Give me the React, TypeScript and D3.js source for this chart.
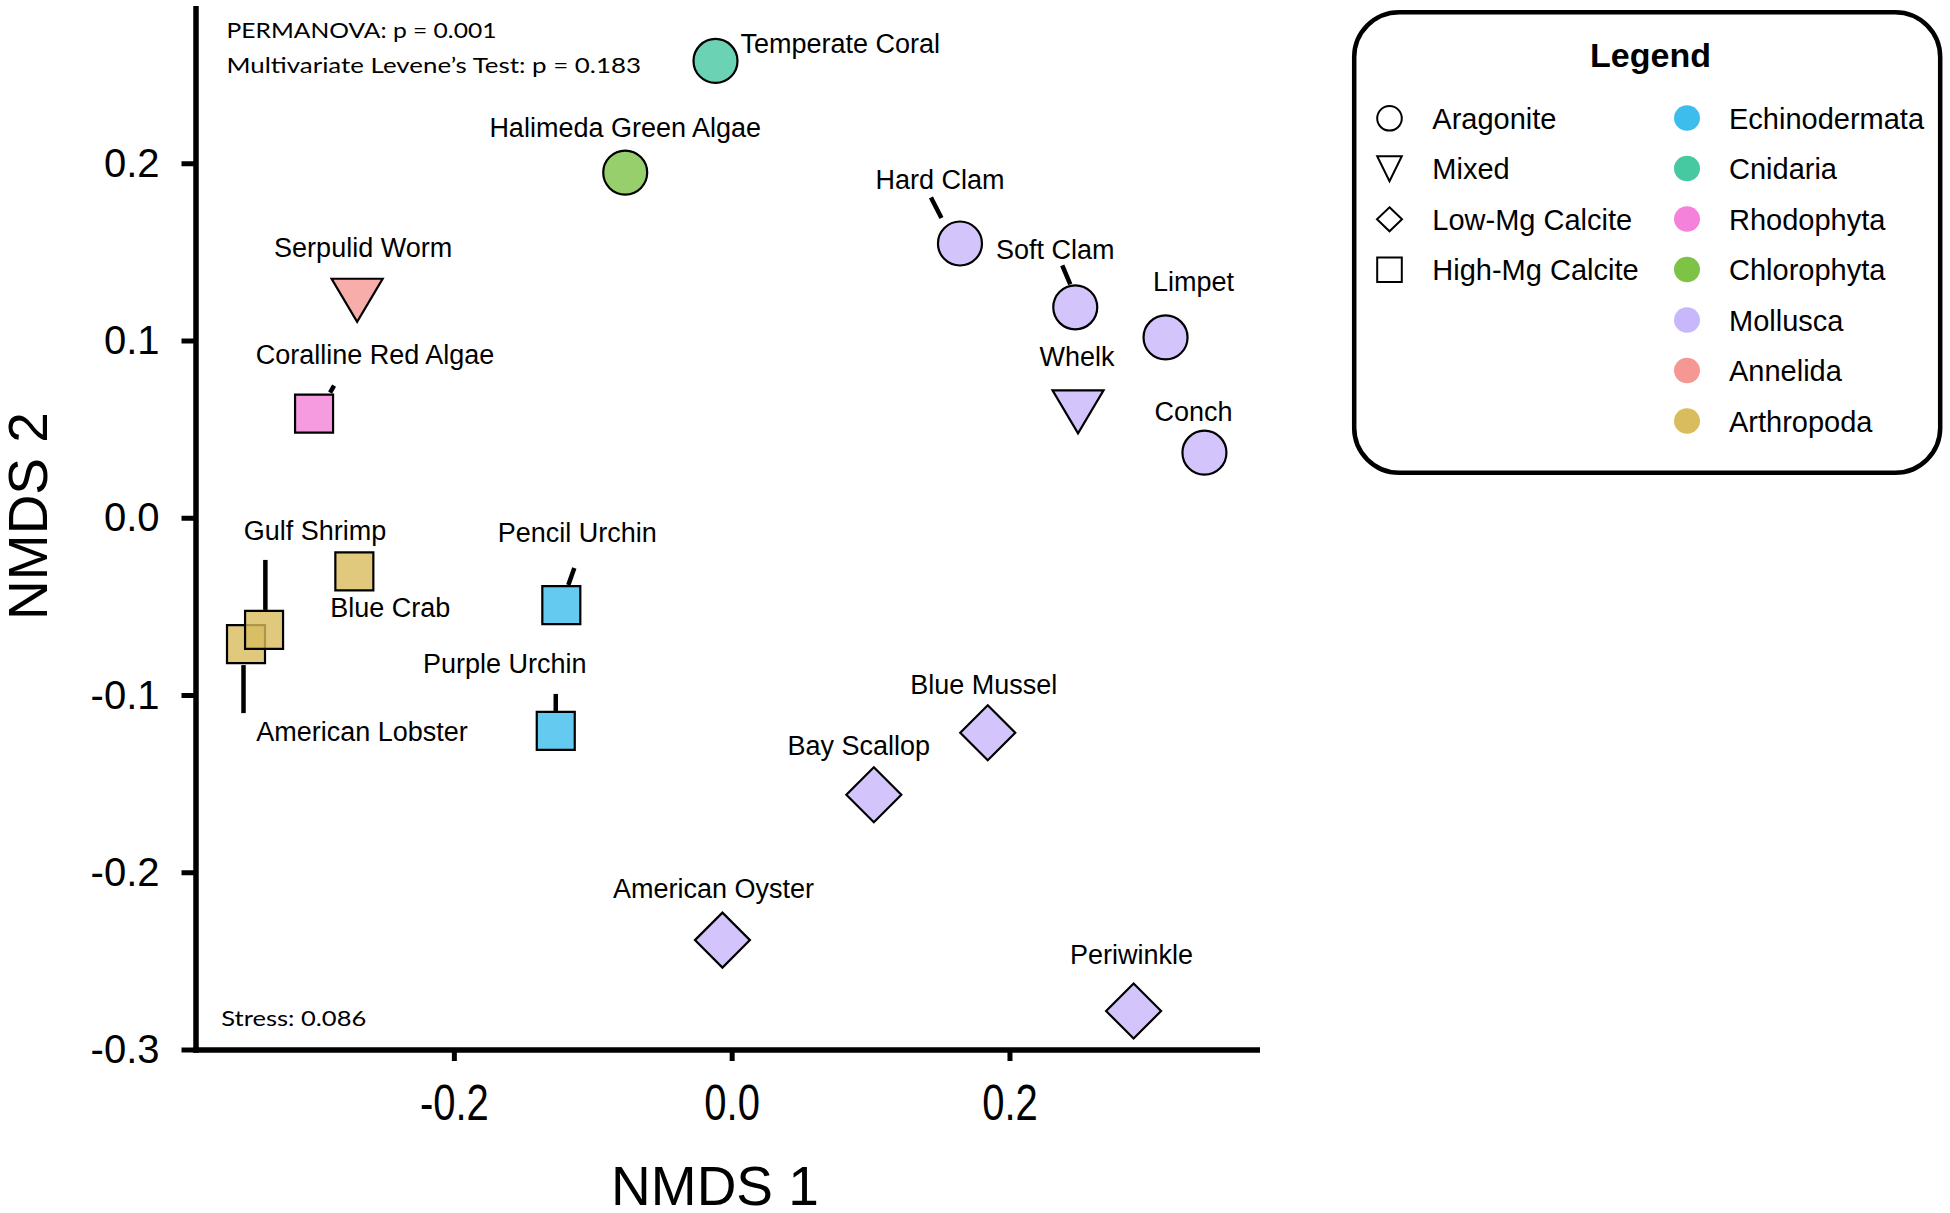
import React from "react";
import * as d3 from "d3";

// NMDS ordination of shell / skeleton chemistry
const species = [
  "Temperate Coral",
  "Halimeda Green Algae",
  "Hard Clam",
  "Soft Clam",
  "Limpet",
  "Whelk",
  "Conch",
  "Serpulid Worm",
  "Coralline Red Algae",
  "Blue Crab",
  "American Lobster",
  "Gulf Shrimp",
  "Pencil Urchin",
  "Purple Urchin",
  "Blue Mussel",
  "Bay Scallop",
  "American Oyster",
  "Periwinkle",
];
const nmds1 = [
  -0.012, -0.077, 0.164, 0.247, 0.312, 0.249, 0.340, -0.270, -0.301, -0.272,
  -0.350, -0.337, -0.123, -0.127, 0.184, 0.102, -0.007, 0.289,
];
const nmds2 = [
  0.258, 0.195, 0.155, 0.119, 0.102, 0.060, 0.037, 0.123, 0.059, -0.030,
  -0.071, -0.063, -0.049, -0.120, -0.121, -0.156, -0.238, -0.278,
];
const phylumOf = [
  "Cnidaria", "Chlorophyta", "Mollusca", "Mollusca", "Mollusca", "Mollusca",
  "Mollusca", "Annelida", "Rhodophyta", "Arthropoda", "Arthropoda",
  "Arthropoda", "Echinodermata", "Echinodermata", "Mollusca", "Mollusca",
  "Mollusca", "Mollusca",
];
const mineralOf = [
  "Aragonite", "Aragonite", "Aragonite", "Aragonite", "Aragonite", "Mixed",
  "Aragonite", "Mixed", "High-Mg Calcite", "High-Mg Calcite",
  "High-Mg Calcite", "High-Mg Calcite", "High-Mg Calcite", "High-Mg Calcite",
  "Low-Mg Calcite", "Low-Mg Calcite", "Low-Mg Calcite", "Low-Mg Calcite",
];

const mineralogies = ["Aragonite", "Mixed", "Low-Mg Calcite", "High-Mg Calcite"];
const phyla = [
  "Echinodermata", "Cnidaria", "Rhodophyta", "Chlorophyta", "Mollusca",
  "Annelida", "Arthropoda",
];
const phylumColors = [
  "#3dbdec", "#46c8a0", "#f582da", "#7cc346", "#c8b7fb", "#f59894", "#d8bc5d",
];

const xTicks = [-0.2, 0.0, 0.2];
const yTicks = [-0.3, -0.2, -0.1, 0.0, 0.1, 0.2];

const statLines = [
  "PERMANOVA: p = 0.001",
  "Multivariate Levene\u2019s Test: p = 0.183",
];
const stressText = "Stress: 0.086";

// label placement relative to each point, in px (same order as species)
const labelLayout: { dx: number; dy: number; anchor?: string; leader?: number[] }[] = [
  { dx: 25, dy: -8, anchor: "start" },
  { dx: 0, dy: -36 },
  { dx: -20, dy: -55, leader: [-29, -46, -18.5, -25.5] },
  { dx: -20, dy: -48, leader: [-13, -42, -5, -23] },
  { dx: 28, dy: -46 },
  { dx: -1, dy: -46 },
  { dx: -11, dy: -32 },
  { dx: 6, dy: -43 },
  { dx: 61, dy: -50, leader: [16, -21, 20, -28] },
  { dx: 36, dy: 46 },
  { dx: 116, dy: 97, leader: [-2.5, 21, -2.5, 69] },
  { dx: 51, dy: -90, leader: [1.3, -70, 1.3, -20] },
  { dx: 16, dy: -63, leader: [7, -20, 13, -37] },
  { dx: -51, dy: -58, leader: [0, -37, 0, -20] },
  { dx: -4, dy: -39 },
  { dx: -15, dy: -40 },
  { dx: -9, dy: -42 },
  { dx: -2, dy: -47 },
];

const W = 1950;
const H = 1213;
const axisX = 196;
const axisY = 1050;

const x = d3.scaleLinear().domain([-0.386, 0.38]).range([axisX, 1260]);
const y = d3.scaleLinear().domain([-0.3, 0.289]).range([axisY, 6]);
const color = d3.scaleOrdinal<string, string>().domain(phyla).range(phylumColors);

// hyphen minus like the original, not the unicode minus d3 emits
const fmt = (v: number) => d3.format(".1f")(v).replace("\u2212", "-");

const markerPath = (shape: string, hw: number, hh: number) => {
  const p = d3.path();
  if (shape === "Aragonite") {
    p.arc(0, 0, hw, 0, Math.PI * 2);
  } else if (shape === "Mixed") {
    p.moveTo(-hw, -hh);
    p.lineTo(hw, -hh);
    p.lineTo(0, hh);
  } else if (shape === "Low-Mg Calcite") {
    p.moveTo(0, -hh);
    p.lineTo(hw, 0);
    p.lineTo(0, hh);
    p.lineTo(-hw, 0);
  } else {
    p.rect(-hw, -hh, hw * 2, hh * 2);
  }
  p.closePath();
  return p.toString();
};

const pointSize: Record<string, [number, number]> = {
  Aragonite: [22, 22],
  Mixed: [25.5, 21.5],
  "Low-Mg Calcite": [27.5, 27.5],
  "High-Mg Calcite": [19, 19],
};
const legendSize: Record<string, [number, number]> = {
  Aragonite: [12.3, 12.3],
  Mixed: [12.3, 12.5],
  "Low-Mg Calcite": [12.5, 12],
  "High-Mg Calcite": [12.3, 12.3],
};

const labelFont = "'Liberation Sans', Arial, sans-serif";

const App: React.FC = () => {
  return (
    <div style={{ position: "absolute", left: 0, top: 0 }}>
      <svg width={W} height={H} style={{ display: "block", background: "#fff" }}>
        {/* axes */}
        <g stroke="#000" strokeWidth={5.5} strokeLinecap="butt">
          <line x1={axisX} x2={axisX} y1={6} y2={axisY + 2.75} />
          <line x1={axisX - 2.75} x2={x.range()[1]} y1={axisY} y2={axisY} />
          {yTicks.map((t) => (
            <line key={"yt" + t} x1={181.5} x2={axisX} y1={y(t)} y2={y(t)} strokeWidth={5} />
          ))}
          {xTicks.map((t) => (
            <line key={"xt" + t} x1={x(t)} x2={x(t)} y1={axisY} y2={1061} strokeWidth={5} />
          ))}
        </g>
        <g fontFamily={labelFont} fontSize={40} fill="#000">
          {yTicks.map((t) => (
            <text key={"yl" + t} x={159.5} y={y(t) + 13} textAnchor="end">
              {fmt(t)}
            </text>
          ))}
          {xTicks.map((t) => (
            <text
              key={"xl" + t}
              textAnchor="middle"
              transform={`translate(${x(t)},1120) scale(1,1.23)`}
            >
              {fmt(t)}
            </text>
          ))}
        </g>
        <text x={715} y={1205} textAnchor="middle" fontFamily={labelFont} fontSize={55}>
          NMDS 1
        </text>
        <text
          transform="translate(47,516) rotate(-90)"
          textAnchor="middle"
          fontFamily={labelFont}
          fontSize={55}
        >
          NMDS 2
        </text>

        {/* statistics */}
        <g fontFamily="Lato, 'Open Sans', sans-serif" fontSize={22} fill="#000">
          <text x={226.5} y={38.3} textLength={270} lengthAdjust="spacingAndGlyphs">
            {statLines[0]}
          </text>
          <text x={226.5} y={72.7} textLength={414.5} lengthAdjust="spacingAndGlyphs">
            {statLines[1]}
          </text>
          <text x={221.3} y={1025.7} textLength={145} lengthAdjust="spacingAndGlyphs">
            {stressText}
          </text>
        </g>

        {/* leader lines */}
        <g stroke="#000" strokeWidth={4.5}>
          {species.map((s, i) => {
            const l = labelLayout[i].leader;
            if (!l) return null;
            const px = x(nmds1[i]);
            const py = y(nmds2[i]);
            return <line key={"ld" + s} x1={px + l[0]} y1={py + l[1]} x2={px + l[2]} y2={py + l[3]} />;
          })}
        </g>

        {/* points */}
        <g stroke="#000" strokeWidth={2.2} strokeLinejoin="miter">
          {species.map((s, i) => {
            const [hw, hh] = pointSize[mineralOf[i]];
            return (
              <path
                key={"pt" + s}
                transform={`translate(${x(nmds1[i])},${y(nmds2[i])})`}
                d={markerPath(mineralOf[i], hw, hh)}
                fill={color(phylumOf[i])}
                fillOpacity={0.8}
              />
            );
          })}
        </g>

        {/* point labels */}
        <g fontFamily={labelFont} fontSize={27} fill="#000">
          {species.map((s, i) => {
            const lay = labelLayout[i];
            return (
              <text
                key={"lb" + s}
                x={x(nmds1[i]) + lay.dx}
                y={y(nmds2[i]) + lay.dy}
                textAnchor={lay.anchor || "middle"}
              >
                {s}
              </text>
            );
          })}
        </g>

        {/* legend */}
        <g fontFamily={labelFont}>
          <rect
            x={1354.2}
            y={12.2}
            width={586}
            height={460.6}
            rx={45}
            ry={45}
            fill="#fff"
            stroke="#000"
            strokeWidth={4.5}
          />
          <text x={1650.5} y={66.7} textAnchor="middle" fontSize={34} fontWeight="bold">
            Legend
          </text>
          {mineralogies.map((m, i) => {
            const cy = 118.3 + i * 50.5;
            const [hw, hh] = legendSize[m];
            return (
              <g key={"lm" + m}>
                <path
                  transform={`translate(1389.5,${cy})`}
                  d={markerPath(m, hw, hh)}
                  fill="none"
                  stroke="#000"
                  strokeWidth={2}
                />
                <text x={1432.3} y={cy + 10.5} fontSize={29}>
                  {m}
                </text>
              </g>
            );
          })}
          {phyla.map((p, i) => {
            const cy = 118 + i * 50.5;
            return (
              <g key={"lp" + p}>
                <ellipse cx={1687} cy={cy} rx={13} ry={12.7} fill={color(p)} />
                <text x={1729} y={cy + 10.5} fontSize={29}>
                  {p}
                </text>
              </g>
            );
          })}
        </g>
      </svg>
    </div>
  );
};

export default App;
